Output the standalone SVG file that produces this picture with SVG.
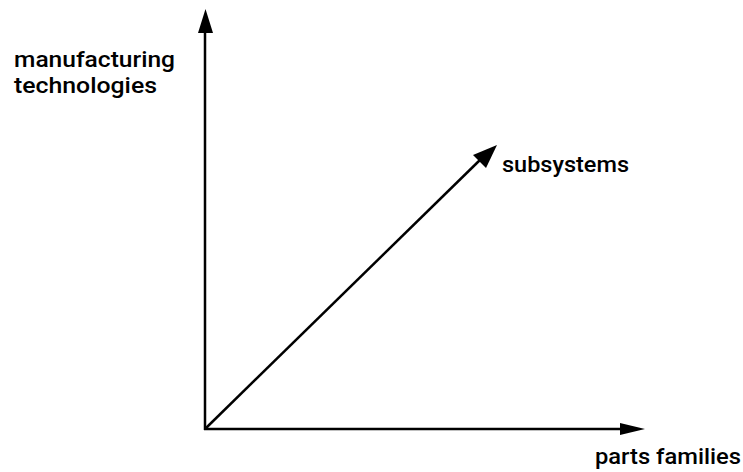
<svg xmlns="http://www.w3.org/2000/svg" width="743" height="472" viewBox="0 0 743 472">
<style>
.ax{stroke:#000;stroke-width:2.5;fill:none}
.ah{fill:#000}
text{font-family:Roboto,"Liberation Sans",Arial,sans-serif;font-size:22px;font-weight:500;fill:#000}
</style>
<rect width="743" height="472" fill="#fff"/>
<g id="connectors">
<line class="ax" x1="205" y1="430" x2="205" y2="30"/>
<polygon class="ah" points="205.5,9 198,33 213,33"/>
<line class="ax" x1="204" y1="429" x2="622" y2="429"/>
<polygon class="ah" points="645,429 620,423 620,435"/>
<line class="ax" x1="205" y1="429" x2="482" y2="158"/>
<polygon class="ah" points="497,145 473,155 486,168"/>
</g>
<g id="y-label"><text x="14" y="67" textLength="161" lengthAdjust="spacingAndGlyphs">manufacturing</text><text x="14" y="93" textLength="143" lengthAdjust="spacingAndGlyphs">technologies</text></g>
<g id="z-label"><text x="502" y="172" textLength="127" lengthAdjust="spacingAndGlyphs">subsystems</text></g>
<g id="x-label"><text x="595" y="464" textLength="146" lengthAdjust="spacingAndGlyphs">parts families</text></g>
</svg>
